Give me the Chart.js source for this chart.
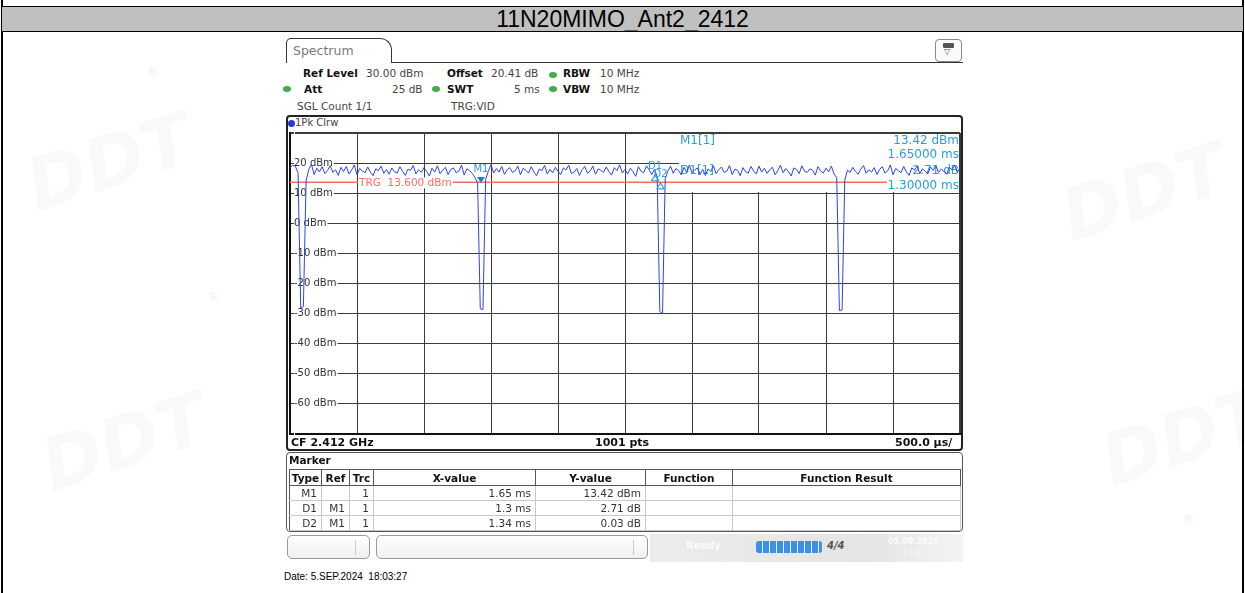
<!DOCTYPE html>
<html>
<head>
<meta charset="utf-8">
<script src="https://cdn.jsdelivr.net/npm/chart.js@4.4.1/dist/chart.umd.min.js"></script>
<style>
  html, body { margin: 0; padding: 0; }
  body { width: 1245px; height: 593px; position: relative; overflow: hidden; background: #fff;
         font-family: 'DejaVu Sans', sans-serif; color: #222; }
  .abs { position: absolute; white-space: nowrap; }
  .vline { position: absolute; top: 0; width: 2px; height: 593px; background: #000; }
  #titlebar { position: absolute; left: 2px; top: 6px; width: 1241px; height: 24px; background: #c0c0c0;
              border-top: 1px solid #000; border-bottom: 1px solid #000;
              font: 23px 'Liberation Sans', Arial, sans-serif; text-align: center; line-height: 25px; color: #000; }
  .wm { position: absolute; font: italic bold 72px 'DejaVu Sans', sans-serif; color: rgba(0,0,0,0.025);
        transform: rotate(-18deg); white-space: nowrap; }
  .reg { position: absolute; font: 13px 'DejaVu Sans', sans-serif; color: rgba(0,0,0,0.1); }
  #tab { position: absolute; left: 286px; top: 38px; width: 106px; height: 25px; box-sizing: border-box;
         border: 1.5px solid #333; border-bottom: none; border-radius: 5px 12px 0 0;
         font-size: 12.5px; color: #7a7a7a; padding: 4px 0 0 6px; background: #fff; }
  #tabline { position: absolute; left: 391px; top: 62px; width: 572px; border-top: 1.5px solid #333; }
  #icon { position: absolute; left: 935px; top: 39px; width: 25px; height: 21px; border: 1px solid #888;
          border-radius: 4px; background: #fafafa; }
  .hd { position: absolute; font-size: 10.5px; color: #444; white-space: nowrap; }
  .hd b { color: #111; }
  .dot { position: absolute; width: 8px; height: 6px; border-radius: 50%; background: #3fae4a; }
  #panel { position: absolute; left: 286px; top: 115px; width: 677px; height: 336px; box-sizing: border-box;
           border: 2px solid #222; border-radius: 4px; }
  #trace { position: absolute; left: 280px; top: 123px; }
  .bot { position: absolute; top: 436px; font-size: 11px; font-weight: bold; color: #111; white-space: nowrap; }
  #mbox { position: absolute; left: 286px; top: 452px; width: 677px; height: 80px; box-sizing: border-box;
          border: 1.5px solid #555; border-radius: 4px; }
  #mtab { position: absolute; left: 289px; top: 469px; width: 671px; border-collapse: collapse;
          font-size: 10.5px; table-layout: fixed; }
  #mtab th { height: 15px; padding: 0; font-weight: bold; border: 1px solid #555; color: #111; }
  #mtab td { height: 14px; padding: 0 4px 0 0; text-align: right; border: 1px solid #c8c8c8; color: #333; }
  #mtab td:first-child { border-left: 1px solid #555; }
  .sb { position: absolute; top: 535px; height: 24px; box-sizing: border-box; border: 1px solid #9a9a9a;
        border-radius: 5px; background: linear-gradient(#fff, #f0f0f0); }
  .sep { position: absolute; top: 4px; width: 1px; height: 15px; background: #ccc; }
  #sb3 { position: absolute; left: 650px; top: 534px; width: 313px; height: 28px;
         background: linear-gradient(to right, #ececec, #e4e4e4 70%, #f4f4f4); }
  #prog { position: absolute; left: 756px; top: 541px; width: 66px; height: 12px; border-radius: 3px;
          background: repeating-linear-gradient(to right, #3b8fe6 0 6px, #eaf3fd 6px 7px); }
</style>
</head>
<body>
<div class="vline" style="left:1px"></div>
<div class="vline" style="left:1242px"></div>
<div id="titlebar">11N20MIMO_Ant2_2412</div>

<div class="wm" style="left:25px;top:120px">DDT</div>
<div class="wm" style="left:40px;top:400px">DDT</div>
<div class="wm" style="left:1060px;top:150px">DDT</div>
<div class="wm" style="left:1100px;top:395px">DDT</div>
<div class="reg" style="left:146px;top:64px">®</div>
<div class="reg" style="left:207px;top:289px">®</div>
<div class="reg" style="left:1183px;top:512px">®</div>

<div id="tab">Spectrum</div>
<div id="tabline"></div>
<div id="icon">
  <div class="abs" style="left:7px;top:3px;width:11px;height:5px;background:#555;border-radius:1px"></div>
  <div class="abs" style="left:8px;top:7px;font-size:8px;color:#555">▽</div>
</div>

<div class="hd" style="left:303px;top:67px"><b>Ref Level</b></div>
<div class="hd" style="left:366px;top:67px">30.00 dBm</div>
<div class="hd" style="left:447px;top:67px"><b>Offset</b></div>
<div class="hd" style="left:491px;top:67px">20.41 dB</div>
<div class="dot" style="left:549px;top:72px"></div>
<div class="hd" style="left:563px;top:67px"><b>RBW</b></div>
<div class="hd" style="left:600px;top:67px">10 MHz</div>

<div class="dot" style="left:283px;top:86px"></div>
<div class="hd" style="left:304px;top:83px"><b>Att</b></div>
<div class="hd" style="left:392px;top:83px">25 dB</div>
<div class="dot" style="left:432px;top:86px"></div>
<div class="hd" style="left:447px;top:83px"><b>SWT</b></div>
<div class="hd" style="left:514px;top:83px">5 ms</div>
<div class="dot" style="left:549px;top:86px"></div>
<div class="hd" style="left:563px;top:83px"><b>VBW</b></div>
<div class="hd" style="left:600px;top:83px">10 MHz</div>

<div class="hd" style="left:297px;top:100px">SGL Count 1/1</div>
<div class="hd" style="left:451px;top:100px">TRG:VID</div>

<div id="panel"></div>
<div class="abs" style="left:288px;top:120px;width:7px;height:7px;border-radius:50%;background:#2438e0"></div>
<div class="hd" style="left:295px;top:117px;font-size:10px">1Pk Clrw</div>

<canvas id="trace" width="690" height="321"></canvas>

<div class="bot" style="left:291px">CF 2.412 GHz</div>
<div class="bot" style="left:595px">1001 pts</div>
<div class="bot" style="left:895px">500.0 µs/</div>

<div id="mbox"></div>
<div class="abs" style="left:289px;top:454px;font-size:10.5px;font-weight:bold;color:#111">Marker</div>
<table id="mtab"></table>

<div class="sb" style="left:287px;width:83px"><div class="sep" style="left:67px"></div></div>
<div class="sb" style="left:376px;width:272px"><div class="sep" style="left:256px"></div></div>
<div id="sb3"></div>
<div class="abs" style="left:686px;top:540px;font-size:10px;font-weight:bold;color:#fafafa">Ready</div>
<div id="prog"></div>
<div class="abs" style="left:827px;top:540px;font-size:10px;font-weight:bold;font-style:italic;color:#555">4/4</div>
<div class="abs" style="left:888px;top:537px;font-size:8px;font-weight:bold;color:#fbfbfb">05.09.2024</div>
<div class="abs" style="left:902px;top:549px;font-size:8px;color:#f6f6f6">18:03:27</div>

<div class="abs" style="left:284px;top:571px;font:10px 'Liberation Sans', Arial, sans-serif;color:#000">Date: 5.SEP.2024&nbsp; 18:03:27</div>

<script>
// zero-span sweep, 0..5 ms, trace 1 (1Pk Clrw)
const SWEEP_START_MS = 0, SWEEP_STOP_MS = 5;
const LEVELS_DBM = [
  18.4, 19.3, 18.9, 16.8, -28.2, -27.6, 14.1, 17.9, 19.6, 16.2, 18.3, 17.1, 18.8, 16.5, 17.6, 19.1, 16.9, 17.8, 15.9, 18.6,
  17.2, 18.9, 16.4, 17.7, 19.4, 16.1, 18.2, 17.4, 16.8, 18.7, 17.0, 15.8, 18.1, 17.5, 19.0, 16.6, 17.9, 16.3, 18.4, 17.1,
  16.7, 18.8, 17.3, 15.9, 18.0, 17.6, 19.2, 16.4, 17.8, 16.9, 18.5, 17.2, 15.7, 18.3, 17.0, 19.1, 16.5, 17.7, 18.6, 16.2,
  17.9, 18.4, 16.8, 17.3, 19.3, 16.0, 18.1, 17.5, 16.6, 15.2, 13.5, -28.4, -28.7, 14.6, 17.2, 19.5, 16.7, 18.2, 17.0, 18.9,
  16.3, 17.8, 18.5, 16.9, 17.4, 19.0, 16.1, 18.3, 17.6, 16.7, 18.8, 17.1, 15.8, 18.0, 17.5, 19.2, 16.4, 17.9, 16.8, 18.6,
  17.3, 16.2, 18.4, 17.7, 19.3, 16.5, 17.0, 18.2, 15.9, 17.8, 18.9, 16.6, 17.4, 19.0, 16.3, 18.1, 17.6, 16.9, 18.7, 17.2,
  16.0, 18.5, 17.5, 19.4, 16.7, 17.9, 16.4, 18.3, 17.1, 15.6, 18.8, 17.3, 16.8, 19.1, 17.7, 16.2, 18.0, 15.4, -29.3, -30.1,
  14.8, 17.4, 19.0, 16.6, 18.2, 17.5, 16.1, 18.6, 17.0, 19.3, 16.8, 17.7, 18.4, 16.3, 17.9, 15.9, 18.1, 17.2, 19.1, 16.5,
  17.8, 18.7, 16.9, 17.3, 19.2, 16.2, 18.0, 17.6, 15.8, 18.5, 17.1, 16.7, 18.9, 17.4, 16.4, 19.0, 17.0, 18.3, 16.6, 17.8,
  18.6, 16.1, 17.5, 19.3, 16.8, 18.2, 17.2, 15.7, 18.4, 17.9, 16.5, 19.1, 17.3, 16.9, 18.1, 17.6, 16.0, 18.8, 17.4, 16.7,
  18.3, 17.1, 19.0, 16.4, 15.1, -29.0, -28.8, 14.3, 17.7, 16.9, 18.6, 17.2, 16.3, 18.0, 19.2, 16.6, 17.8, 17.0, 18.5, 16.2,
  17.9, 18.8, 16.7, 17.4, 19.4, 16.1, 18.2, 17.5, 16.8, 18.9, 17.1, 15.9, 18.4, 17.7, 19.0, 16.5, 18.1, 17.3, 16.4, 18.7,
  17.6, 19.2, 16.9, 18.0, 17.2, 16.3, 18.6, 17.8, 19.3, 17.0, 18.4
];
const Y_MIN = -70, Y_MAX = 30, Y_STEP = 10;
const Y_TICK_LABELS = { 20: '20 dBm', 10: '10 dBm', 0: '0 dBm', '-10': '-10 dBm', '-20': '-20 dBm',
  '-30': '-30 dBm', '-40': '-40 dBm', '-50': '-50 dBm', '-60': '-60 dBm' };
const X_DIV_MS = 0.5;
const TRG_LEVEL = 13.6, TRG_END_MS = 4.455, TRG_TEXT = 'TRG  13.600 dBm';
const MARKERS = [
  { name: 'M1', x: 1.425, y: 13.42, kind: 'ref' },
  { name: 'D1', x: 2.725, y: 16.13, kind: 'delta' },
  { name: 'D2', x: 2.765, y: 13.45, kind: 'delta' }
];
const MARKER_INFO = [
  ['M1[1]', '13.42 dBm', '1.65000 ms'],
  ['D1[1]', '2.71 dB', '1.30000 ms']
];
const TABLE_HEAD = ['Type', 'Ref', 'Trc', 'X-value', 'Y-value', 'Function', 'Function Result'];
const TABLE_WIDTHS = [32, 28, 24, 162, 110, 87, 228];
const TABLE_ROWS = [
  ['M1', '', '1', '1.65 ms', '13.42 dBm', '', ''],
  ['D1', 'M1', '1', '1.3 ms', '2.71 dB', '', ''],
  ['D2', 'M1', '1', '1.34 ms', '0.03 dB', '', '']
];

const MK_COL = '#2c9ddb', TRACE_COL = '#2f43e6', TRG_COL = '#f7705f';

// marker table
(function () {
  let h = '<colgroup>' + TABLE_WIDTHS.map(w => `<col style="width:${w}px">`).join('') + '</colgroup>';
  h += '<tr>' + TABLE_HEAD.map(t => `<th>${t}</th>`).join('') + '</tr>';
  TABLE_ROWS.forEach(r => { h += '<tr>' + r.map(c => `<td>${c}</td>`).join('') + '</tr>'; });
  document.getElementById('mtab').innerHTML = h;
})();

const step = (SWEEP_STOP_MS - SWEEP_START_MS) / (LEVELS_DBM.length - 1);
const tracePts = LEVELS_DBM.map((v, i) => ({ x: SWEEP_START_MS + i * step, y: v }));

const overlay = {
  id: 'overlay',
  beforeDatasetsDraw(chart) {
    // marker readout block, white behind it hides the grid
    const { ctx, chartArea: ca } = chart;
    const x0 = ca.left + 389;
    ctx.save();
    ctx.fillStyle = '#fff';
    ctx.fillRect(x0, ca.top + 1, ca.right - 1 - x0, 58);
    ctx.fillStyle = MK_COL; ctx.font = '12px "DejaVu Sans"'; ctx.textBaseline = 'middle';
    const rowsY = [[8, 22], [38, 53]];
    MARKER_INFO.forEach((m, k) => {
      ctx.textAlign = 'left'; ctx.fillText(m[0], x0 + 1, ca.top + rowsY[k][0]);
      ctx.textAlign = 'right'; ctx.fillText(m[1], ca.right - 1, ca.top + rowsY[k][0]);
      ctx.fillText(m[2], ca.right - 1, ca.top + rowsY[k][1]);
    });
    ctx.restore();
  },
  afterDatasetDraw(chart, args) {
    if (args.index !== 1) return;
    // trigger label sits on its line, under the trace
    const { ctx, scales: { x, y } } = chart;
    const px = x.getPixelForValue(X_DIV_MS) + 1, py = y.getPixelForValue(TRG_LEVEL);
    ctx.save();
    ctx.font = '10.5px "DejaVu Sans"'; ctx.textBaseline = 'middle'; ctx.textAlign = 'left';
    const w = ctx.measureText(TRG_TEXT).width;
    ctx.fillStyle = '#fff'; ctx.fillRect(px, py - 5, w + 2, 11);
    ctx.fillStyle = TRG_COL; ctx.fillText(TRG_TEXT, px + 1, py + 0.5);
    ctx.restore();
  },
  afterDatasetsDraw(chart) {
    const { ctx, scales: { x, y } } = chart;
    ctx.save();
    ctx.font = '10px "DejaVu Sans"'; ctx.textAlign = 'center'; ctx.textBaseline = 'middle';
    MARKERS.forEach(m => {
      const px = x.getPixelForValue(m.x), py = y.getPixelForValue(m.y);
      ctx.beginPath();
      if (m.kind === 'ref') {
        ctx.moveTo(px, py); ctx.lineTo(px - 4, py - 6); ctx.lineTo(px + 4, py - 6); ctx.closePath();
        ctx.fillStyle = '#1f7fd0'; ctx.fill();
        ctx.fillStyle = MK_COL; ctx.fillText(m.name, px, py - 13);
      } else {
        ctx.moveTo(px, py); ctx.lineTo(px - 3.5, py + 6); ctx.lineTo(px + 3.5, py + 6); ctx.closePath();
        ctx.strokeStyle = MK_COL; ctx.lineWidth = 1.2; ctx.stroke();
        ctx.fillStyle = MK_COL; ctx.fillText(m.name, px, py - 8);
      }
    });
    ctx.restore();
  }
};

new Chart(document.getElementById('trace'), {
  type: 'line',
  data: {
    datasets: [
      { data: tracePts, borderColor: TRACE_COL, borderWidth: 1, pointRadius: 0, tension: 0 },
      { data: [{ x: SWEEP_START_MS, y: TRG_LEVEL }, { x: TRG_END_MS, y: TRG_LEVEL }],
        borderColor: TRG_COL, borderWidth: 1.5, pointRadius: 0 }
    ]
  },
  options: {
    responsive: false, animation: false, events: [],
    layout: { padding: 10 },
    plugins: { legend: { display: false }, tooltip: { enabled: false } },
    scales: {
      x: {
        type: 'linear', min: SWEEP_START_MS, max: SWEEP_STOP_MS,
        afterFit: s => { s.height = 0; },
        ticks: { display: false, stepSize: X_DIV_MS },
        grid: { color: '#3c3c3c', lineWidth: c => (c.tick && c.tick.value === SWEEP_STOP_MS ? 2 : 1), drawTicks: false },
        border: { display: true, color: '#111', width: 2 }
      },
      y: {
        min: Y_MIN, max: Y_MAX,
        afterFit: s => { s.width = 0; },
        ticks: {
          stepSize: Y_STEP, mirror: true, padding: 4, color: '#333',
          font: { family: 'DejaVu Sans', size: 10 },
          callback: v => Y_TICK_LABELS[v] || '',
          showLabelBackdrop: true, backdropColor: '#fff', backdropPadding: { left: 0, right: 1, top: 0, bottom: 0 }
        },
        grid: { color: '#3c3c3c', lineWidth: c => (c.tick && c.tick.value === Y_MAX ? 2 : 1), drawTicks: false },
        border: { display: true, color: '#111', width: 2 }
      }
    }
  },
  plugins: [overlay]
});
</script>
</body>
</html>
